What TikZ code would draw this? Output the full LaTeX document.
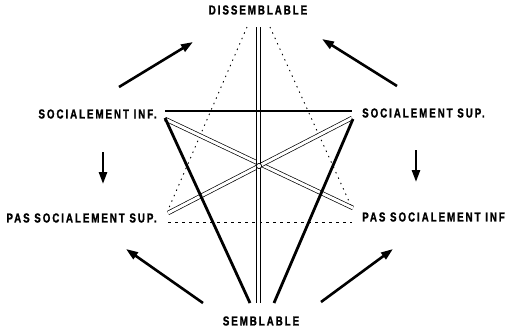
\documentclass[tikz,border=0pt]{standalone}
\usepackage{fontspec}
\newfontfamily\labfont[FakeStretch=0.75,LetterSpace=15,FakeBold=1.2]{Liberation Sans Bold}
\usetikzlibrary{arrows.meta}
\begin{document}
\begin{tikzpicture}[x=1pt,y=-1pt,
  lab/.style={font=\labfont\fontsize{13}{13}\selectfont, inner sep=0pt},
  thickline/.style={line width=2.8pt},
  dbl/.style={double, line width=0.7pt, double distance=3pt},
  vdbl/.style={double, line width=0.8pt, double distance=3.6pt},
  dotline/.style={line width=0.9pt, dash pattern=on 1.4pt off 4.5pt},
  dashline/.style={line width=0.8pt, dash pattern=on 3pt off 4pt},
  bigarrow/.style={line width=2.6pt, -{Triangle[length=12pt,width=8pt]}}]
\useasboundingbox (0,0) rectangle (517,330);
% labels
\node[lab] (diss) at (258,10) {DISSEMBLABLE};
\node[lab, anchor=east] (socinf) at (157,114) {SOCIALEMENT INF.};
\node[lab, anchor=west] (socsup) at (362,113) {SOCIALEMENT SUP.};
\node[lab, anchor=east] (passup) at (157,218) {PAS SOCIALEMENT SUP.};
\node[lab, anchor=west] (pasinf) at (362,217) {PAS SOCIALEMENT INF};
\node[lab] (semb) at (261,321) {SEMBLABLE};
% geometry points
\coordinate (hl) at (165,111);
\coordinate (hr) at (352,111);
\coordinate (tl) at (165,118);
\coordinate (tr) at (353,119);
\coordinate (bl) at (250,303);
\coordinate (br) at (274,303);
\coordinate (xl1) at (165,119);
\coordinate (xr1) at (353,208);
\coordinate (xr2) at (352,118);
\coordinate (xl2) at (168,213);
\coordinate (dl) at (168,222);
\coordinate (dr) at (352,222);
\coordinate (pl) at (247,27);
\coordinate (pr) at (270,27);
\coordinate (ql) at (168,210);
\coordinate (qr) at (352,208);
\coordinate (vt) at (258.5,27);
\coordinate (vb) at (258.5,303);
\coordinate (cen) at (259,166);
% lines
\draw[dotline] (pl) -- (ql);
\draw[dotline] (pr) -- (qr);
\draw[dashline] (dl) -- (dr);
\draw[dbl] (xl1) -- (xr1);
\draw[dbl] (xr2) -- (xl2);
\draw[vdbl] (vt) -- (vb);
\draw[line width=0.7pt, fill=white] (cen) circle (2.6pt);
\draw[thickline] (hl) -- (hr);
\draw[thickline] (tl) -- (bl);
\draw[thickline] (tr) -- (br);
% arrows
\coordinate (a1s) at (119,87);  \coordinate (a1e) at (193,42);
\coordinate (a2s) at (397,86);  \coordinate (a2e) at (322,39);
\coordinate (a3s) at (203,303); \coordinate (a3e) at (126,249);
\coordinate (a4s) at (321,302); \coordinate (a4e) at (393,249);
\coordinate (a5s) at (103,152); \coordinate (a5e) at (103,184);
\coordinate (a6s) at (416,150); \coordinate (a6e) at (416,182);
\draw[bigarrow] (a1s) -- (a1e);
\draw[bigarrow] (a2s) -- (a2e);
\draw[bigarrow] (a3s) -- (a3e);
\draw[bigarrow] (a4s) -- (a4e);
\draw[bigarrow] (a5s) -- (a5e);
\draw[bigarrow] (a6s) -- (a6e);
\end{tikzpicture}
\end{document}
